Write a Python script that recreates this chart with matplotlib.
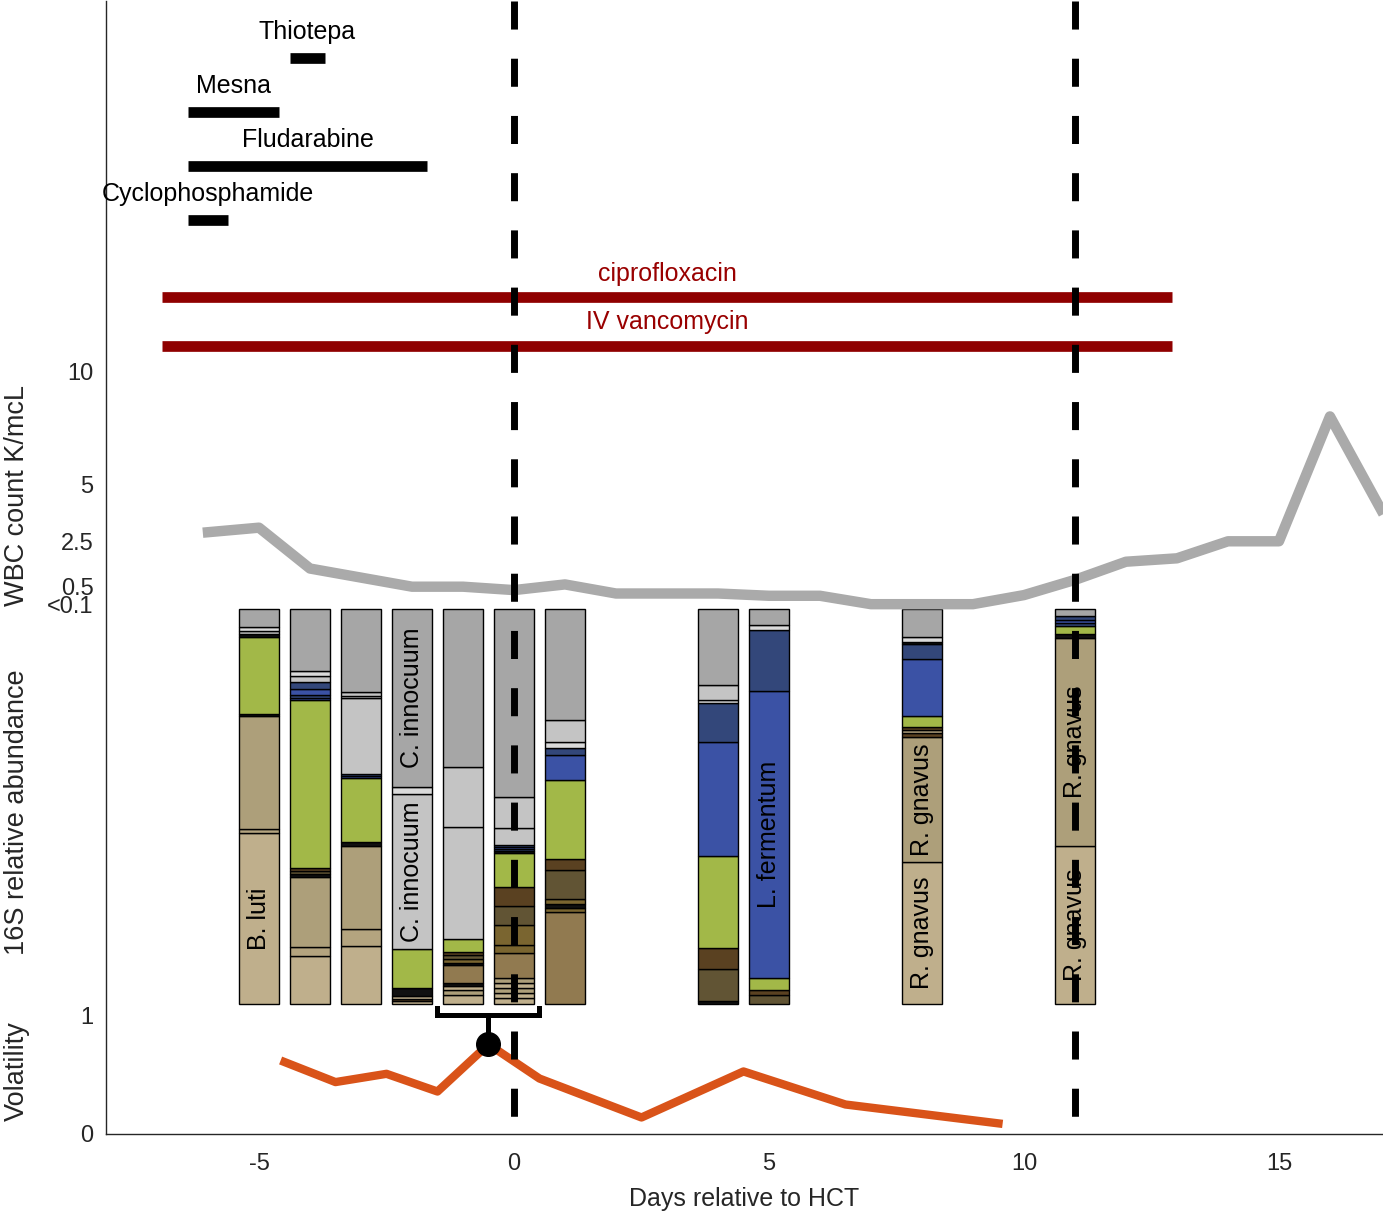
import numpy as np
import matplotlib.pyplot as plt

plt.rcParams['font.family'] = ['Liberation Sans', 'DejaVu Sans']
plt.rcParams['axes.unicode_minus'] = False
plt.rcParams['lines.scale_dashes'] = False

# ---- data ----
# WBC count K/mcL (0 = below detection, shown as <0.1)
wbc_day = [-6, -5, -4, -3, -2, -1, 0, 1, 2, 3, 4, 5, 6, 7, 8, 9, 10, 11, 12, 13, 14, 15, 16, 17]
wbc_val = [2.9, 3.1, 1.3, 0.9, 0.5, 0.5, 0.35, 0.6, 0.2, 0.2, 0.2, 0.1, 0.1, 0, 0, 0,
           0.13, 0.8, 1.6, 1.75, 2.5, 2.5, 8.0, 3.9]

# volatility between consecutive samples
vol_day = [-4.5, -3.5, -2.5, -1.5, -0.5, 0.5, 2.5, 4.5, 6.5, 9.5]
vol_val = [0.61, 0.44, 0.51, 0.36, 0.76, 0.47, 0.14, 0.53, 0.25, 0.09]
vol_peak_day = -0.5

# conditioning chemo
chemo_names = ['Thiotepa', 'Mesna', 'Fludarabine', 'Cyclophosphamide']
chemo_start = [-4.4, -6.4, -6.4, -6.4]
chemo_end = [-3.7, -4.6, -1.7, -5.6]

# antibiotics
abx_names = ['ciprofloxacin', 'IV vancomycin']
abx_start = [-6.9, -6.9]
abx_end = [12.9, 12.9]

hct_marks = [0, 11]

# 16S samples: taxa listed bottom -> top with relative abundance (%)
palette = {
    'other': '#a6a6a6', 'erysip': '#c4c4c4', 'erysip2': '#dadada',
    'entero': '#a2b848', 'lachno': '#ad9f7a', 'lachno2': '#bfaf8c',
    'lachno3': '#b4a47f', 'strep': '#33477a', 'lacto': '#3b52a5',
    'rumino': '#5a4121', 'rumino2': '#615434', 'rumino3': '#7a6530',
    'rumino4': '#917a50', 'proteo': '#111111',
}
bar_days = [-5, -4, -3, -2, -1, 0, 1, 4, 5, 8, 11]
bar_taxa = [
    ['lachno2', 'lachno3', 'lachno', 'proteo', 'entero', 'proteo', 'erysip', 'erysip2', 'other'],
    ['lachno2', 'lachno3', 'lachno', 'proteo', 'rumino2', 'rumino', 'entero', 'lacto', 'strep',
     'lacto', 'strep', 'erysip', 'erysip2', 'other'],
    ['lachno2', 'lachno3', 'lachno', 'proteo', 'entero', 'lacto', 'strep', 'erysip', 'erysip2',
     'erysip', 'other'],
    ['lachno2', 'rumino', 'lachno2', 'proteo', 'entero', 'erysip', 'erysip2', 'other'],
    ['lachno2', 'lachno', 'lachno2', 'proteo', 'rumino4', 'proteo', 'rumino3', 'rumino2', 'rumino',
     'entero', 'erysip', 'erysip', 'other'],
    ['lachno2', 'lachno2', 'lachno', 'lachno2', 'lachno', 'rumino4', 'rumino3', 'rumino3',
     'rumino2', 'rumino', 'entero', 'proteo', 'strep', 'lacto', 'strep', 'erysip', 'erysip', 'other'],
    ['rumino4', 'rumino3', 'proteo', 'rumino3', 'rumino2', 'rumino', 'entero', 'lacto', 'strep',
     'erysip2', 'erysip', 'other'],
    ['proteo', 'rumino2', 'rumino', 'entero', 'lacto', 'strep', 'erysip2', 'erysip', 'other'],
    ['rumino2', 'rumino', 'entero', 'lacto', 'strep', 'erysip2', 'other'],
    ['lachno2', 'lachno', 'rumino', 'lachno3', 'rumino', 'entero', 'lacto', 'strep', 'proteo',
     'erysip2', 'other'],
    ['lachno2', 'lachno', 'proteo', 'entero', 'strep', 'lacto', 'strep', 'other'],
]
bar_abund = [
    [43.3, 1.0, 28.6, 0.5, 19.5, 0.8, 0.8, 1.0, 4.6],
    [12.2, 2.3, 17.7, 0.8, 0.8, 0.8, 42.5, 0.5, 0.8, 1.5, 1.8, 1.5, 1.3, 15.7],
    [14.7, 4.3, 20.8, 1.0, 16.2, 0.5, 0.5, 19.2, 0.5, 1.0, 21.0],
    [0.8, 0.5, 0.8, 2.0, 9.9, 39.0, 1.8, 45.1],
    [2.3, 1.3, 1.0, 0.8, 4.6, 0.5, 0.8, 1.0, 0.8, 3.3, 28.4, 15.4, 40.0],
    [1.5, 1.3, 1.3, 1.3, 1.3, 6.3, 2.0, 5.1, 4.8, 4.8, 8.6, 0.5, 0.5, 0.5, 0.5, 4.3, 7.8, 47.6],
    [23.3, 1.0, 1.0, 1.3, 7.3, 2.8, 20.0, 6.1, 2.0, 1.3, 5.6, 28.1],
    [0.8, 8.1, 5.3, 23.3, 28.9, 9.9, 0.8, 3.8, 19.2],
    [2.3, 1.3, 3.0, 72.7, 15.4, 1.3, 4.1],
    [35.9, 31.6, 1.0, 0.8, 0.8, 2.8, 14.4, 3.8, 0.5, 1.3, 7.1],
    [40.0, 52.7, 1.0, 2.0, 0.8, 0.8, 1.0, 1.8],
]
# (sample day, taxon index, label)
bar_labels = [(-5, 0, 'B. luti'), (-2, 5, 'C. innocuum'), (-2, 7, 'C. innocuum'),
              (5, 3, 'L. fermentum'), (8, 0, 'R. gnavus'), (8, 1, 'R. gnavus'),
              (11, 0, 'R. gnavus'), (11, 1, 'R. gnavus')]


# ---- layout helpers (panel stacking on one axis) ----
def wbc_y(w):
    w = np.asarray(w, dtype=float)
    return np.where(w < 0.1, 4.49, 4.542 + 0.1924 * w)


bar_bottom, bar_height = 1.102, 3.347
y_top = 1133 / 118

fig = plt.figure(figsize=(13.83, 12.15), dpi=100)
ax = fig.add_axes([106 / 1383, 81 / 1215, 1 - 106 / 1383, 1133 / 1215])
ax.set_xlim(-8, 17.04)
ax.set_ylim(0, y_top)
fs = 18

# chemo bars
chemo_rows = [9.12, 8.66, 8.20, 7.75]
for name, s, e, yy in zip(chemo_names, chemo_start, chemo_end, chemo_rows):
    ax.plot([s, e], [yy, yy], color='black', lw=7.7, solid_capstyle='butt')
    ax.text((s + e) / 2, yy + 0.22, name, ha='center', va='center', fontsize=fs)

# antibiotic bars
abx_rows = [7.09, 6.68]
for name, s, e, yy in zip(abx_names, abx_start, abx_end, abx_rows):
    ax.plot([s, e], [yy, yy], color='#8f0000', lw=7.7, solid_capstyle='butt')
    ax.text((s + e) / 2, yy + 0.2, name, ha='center', va='center', fontsize=fs, color='#990000')

# stacked 16S bars
for day, taxa, ab in zip(bar_days, bar_taxa, bar_abund):
    frac = np.array(ab) / sum(ab)
    bottoms = bar_bottom + np.concatenate([[0], np.cumsum(frac)[:-1]]) * bar_height
    ax.bar(day, frac * bar_height, bottom=bottoms, width=0.8, align='center',
           color=[palette[t] for t in taxa], edgecolor='black', linewidth=1.0, zorder=3)
    for d, idx, lab in bar_labels:
        if d == day:
            yc = bottoms[idx] + frac[idx] * bar_height / 2
            ax.text(day, yc, lab, rotation=90, ha='center', va='center', fontsize=fs, zorder=4)

# WBC line
ax.plot(wbc_day, wbc_y(wbc_val), color='#aaaaaa', lw=7.5, zorder=5, clip_on=True)

# volatility
ax.plot(vol_day, vol_val, color='#d95319', lw=6, zorder=5)
pk = vol_val[vol_day.index(vol_peak_day)]
ax.plot([vol_peak_day], [pk], 'o', color='black', markersize=17, zorder=6)
ax.plot([-1.5, -1.5, 0.5, 0.5], [1.068, 1.008, 1.008, 1.068], color='black', lw=3.6, zorder=6,
        solid_joinstyle='miter')
ax.plot([vol_peak_day, vol_peak_day], [1.008, pk], color='black', lw=3.6, zorder=6)

# HCT / engraftment dashed lines
for d in hct_marks:
    ax.plot([d, d], [y_top, 0], color='black', lw=5, dashes=(20.2, 21), zorder=10,
            solid_capstyle='butt', dash_capstyle='butt')

# axes styling
for s in ['top', 'right']:
    ax.spines[s].set_visible(False)
for s in ['left', 'bottom']:
    ax.spines[s].set_linewidth(1.0)
    ax.spines[s].set_color('#262626')
ax.set_xticks([-5, 0, 5, 10, 15])
ax.set_xticklabels(['-5', '0', '5', '10', '15'])
ax.set_yticks([0, 1, 4.49] + list(wbc_y([0.5, 2.5, 5, 10])))
ax.set_yticklabels(['0', '1', '<0.1', '0.5', '2.5', '5', '10'])
ax.tick_params(axis='both', length=0, labelsize=fs - 1, colors='#262626')
ax.tick_params(axis='x', pad=14)
ax.tick_params(axis='y', pad=9)
ax.set_xlabel('Days relative to HCT', fontsize=fs, color='#262626', labelpad=8)

fig.text(17 / 1383, 1 - 495 / 1215, 'WBC count K/mcL', rotation=90, ha='center', va='center',
         fontsize=19.5, color='#262626')
fig.text(17 / 1383, 1 - 812 / 1215, '16S relative abundance', rotation=90, ha='center',
         va='center', fontsize=19.5, color='#262626')
fig.text(17 / 1383, 1 - 1071 / 1215, 'Volatility', rotation=90, ha='center', va='center',
         fontsize=19.5, color='#262626')

fig.savefig('out.png', dpi=100)
